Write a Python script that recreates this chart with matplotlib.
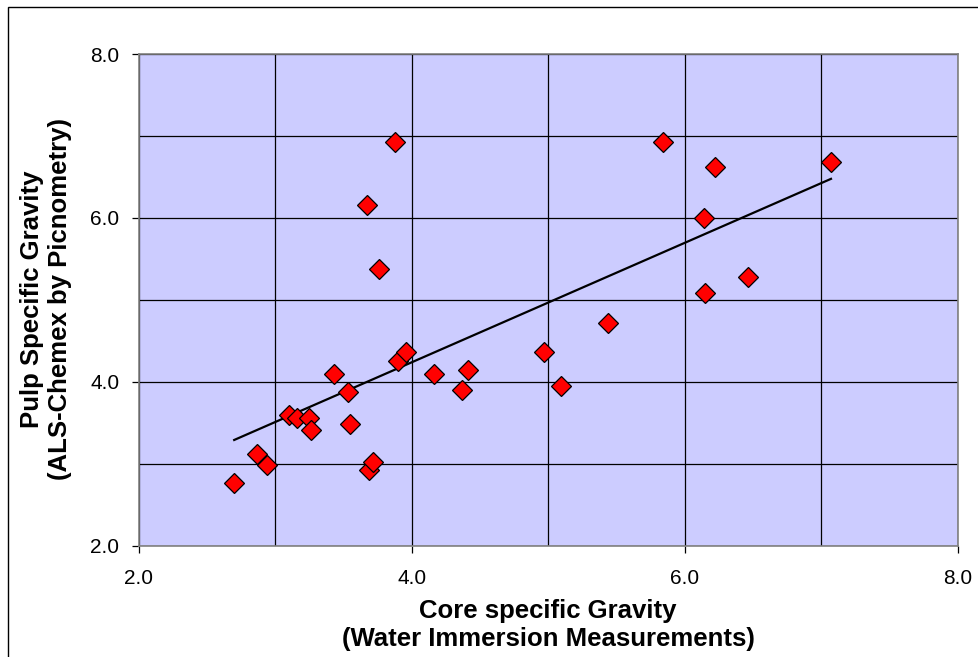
import numpy as np
import matplotlib
matplotlib.use("Agg")
import matplotlib.pyplot as plt
from matplotlib.patches import Rectangle
from matplotlib.ticker import MultipleLocator, FormatStrFormatter

plt.rcParams['font.family'] = ['Liberation Sans', 'DejaVu Sans']

# core SG (water immersion) vs pulp SG (picnometry)
core_sg = [2.70, 2.87, 2.94, 3.10, 3.16, 3.25, 3.26, 3.43, 3.53, 3.55,
           3.69, 3.72, 3.90, 3.96, 4.16, 4.41, 4.37, 4.97, 5.09, 5.44,
           5.84, 6.22, 6.14, 7.07, 6.46, 6.15, 3.88, 3.67, 3.76]
pulp_sg = [2.77, 3.12, 2.98, 3.60, 3.56, 3.56, 3.41, 4.10, 3.87, 3.48,
           2.92, 3.02, 4.25, 4.36, 4.10, 4.15, 3.90, 4.36, 3.95, 4.72,
           6.93, 6.62, 6.00, 6.68, 5.28, 5.08, 6.93, 6.16, 5.38]

W, H = 979, 657
fig = plt.figure(figsize=(W / 100, H / 100), dpi=100)
ax = fig.add_axes([138.6 / W, 1 - 545.7 / H, 819.4 / W, 491.7 / H])

ax.set_facecolor('#CCCCFF')
ax.set_xlim(2, 8)
ax.set_ylim(2, 8)
ax.xaxis.set_major_locator(MultipleLocator(2))
ax.yaxis.set_major_locator(MultipleLocator(2))
ax.xaxis.set_minor_locator(MultipleLocator(1))
ax.yaxis.set_minor_locator(MultipleLocator(1))
ax.xaxis.set_major_formatter(FormatStrFormatter('%.1f'))
ax.yaxis.set_major_formatter(FormatStrFormatter('%.1f'))
ax.grid(True, which='both', color='black', lw=0.9)
ax.set_axisbelow(True)
ax.tick_params(which='minor', length=0)
ax.tick_params(axis='x', which='major', direction='out', length=5, width=0.9, pad=12, labelsize=15)
ax.tick_params(axis='y', which='major', direction='out', length=5, width=0.9, pad=9, labelsize=15)
for s in ax.spines.values():
    s.set_color('#808080')
    s.set_linewidth(1.2)

x = np.array(core_sg)
y = np.array(pulp_sg)
# linear trend line over the data range
slope, intercept = np.polyfit(x, y, 1)
xs = np.array([x.min(), x.max()])
ax.plot(xs, slope * xs + intercept, color='black', lw=1.6, zorder=3)
ax.plot(x, y, 'D', color='#FF0000', mec='black', mew=0.9, ms=10, zorder=4)

fig.text(548 / W, 1 - 625 / H, 'Core specific Gravity\n(Water Immersion Measurements)',
         ha='center', va='center', fontsize=18.5, fontweight='bold', multialignment='center')
fig.text(46 / W, 1 - 299 / H, 'Pulp Specific Gravity\n(ALS-Chemex by Picnometry)',
         ha='center', va='center', rotation=90, fontsize=18.5, fontweight='bold',
         multialignment='center')

# outer chart frame (runs off the right and bottom edges)
fig.add_artist(Rectangle((8 / W, -0.05), 2, 1 - 7 / H + 0.05, transform=fig.transFigure,
                         fill=False, ec='black', lw=1))

plt.savefig('out.png', dpi=100)
